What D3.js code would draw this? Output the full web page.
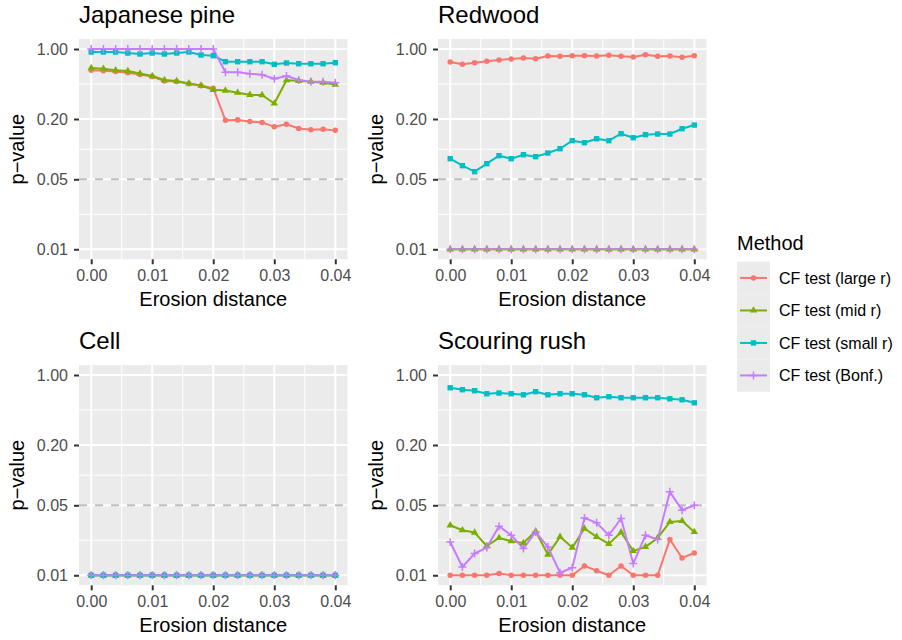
<!DOCTYPE html>
<html>
<head>
<meta charset="utf-8">
<script src="https://cdn.jsdelivr.net/npm/d3@7"></script>
<style>
body { margin: 0; background: #fff; }
svg text { font-family: "Liberation Sans", Arial, sans-serif; }
</style>
</head>
<body>
<div id="chart"></div>
<script>
/* Data */

var erosion = [0.000, 0.002, 0.004, 0.006, 0.008, 0.010, 0.012, 0.014, 0.016, 0.018, 0.020,
               0.022, 0.024, 0.026, 0.028, 0.030, 0.032, 0.034, 0.036, 0.038, 0.040];
var methods = ["CF test (large r)", "CF test (mid r)", "CF test (small r)", "CF test (Bonf.)"];
var colours = ["#F8766D", "#7CAE00", "#00BFC4", "#C77CFF"];
var shapes = ["circle", "triangle", "square", "plus"];
var titles = ["Japanese pine", "Redwood", "Cell", "Scouring rush"];
var yTicks = [0.01, 0.05, 0.20, 1.00];
var xTicks = [0.00, 0.01, 0.02, 0.03, 0.04];
var cutoff = 0.05;

var pineLarge = [0.614, 0.607, 0.596, 0.580, 0.556, 0.531, 0.479, 0.474, 0.450, 0.430, 0.406,
                 0.194, 0.196, 0.189, 0.185, 0.167, 0.177, 0.161, 0.156, 0.158, 0.154];
var pineMid   = [0.646, 0.636, 0.613, 0.603, 0.569, 0.537, 0.490, 0.479, 0.453, 0.432, 0.392,
                 0.385, 0.366, 0.349, 0.347, 0.286, 0.488, 0.481, 0.472, 0.461, 0.442];
var pineSmall = [0.933, 0.933, 0.933, 0.912, 0.891, 0.912, 0.891, 0.912, 0.933, 0.871, 0.857,
                 0.747, 0.747, 0.747, 0.747, 0.703, 0.725, 0.713, 0.713, 0.713, 0.730];
var pineBonf  = [1, 1, 1, 1, 1, 1, 1, 1, 1, 1, 1,
                 0.585, 0.585, 0.567, 0.554, 0.505, 0.537, 0.490, 0.472, 0.472, 0.461];

var redwoodLarge = [0.742, 0.703, 0.730, 0.754, 0.776, 0.795, 0.813, 0.800, 0.851, 0.846, 0.857,
                    0.857, 0.851, 0.865, 0.846, 0.832, 0.877, 0.846, 0.851, 0.826, 0.857];
var redwoodMid   = [0.01, 0.01, 0.01, 0.01, 0.01, 0.01, 0.01, 0.01, 0.01, 0.01, 0.01,
                    0.01, 0.01, 0.01, 0.01, 0.01, 0.01, 0.01, 0.01, 0.01, 0.01];
var redwoodSmall = [0.0803, 0.0684, 0.0596, 0.0716, 0.0860, 0.0803, 0.0880, 0.0841, 0.0915, 0.101, 0.1215,
                    0.116, 0.127, 0.1215, 0.1426, 0.130, 0.1394, 0.1416, 0.1416, 0.160, 0.174];
var redwoodBonf  = [0.01, 0.01, 0.01, 0.01, 0.01, 0.01, 0.01, 0.01, 0.01, 0.01, 0.01,
                    0.01, 0.01, 0.01, 0.01, 0.01, 0.01, 0.01, 0.01, 0.01, 0.01];

var cellLarge = [0.01, 0.01, 0.01, 0.01, 0.01, 0.01, 0.01, 0.01, 0.01, 0.01, 0.01,
                 0.01, 0.01, 0.01, 0.01, 0.01, 0.01, 0.01, 0.01, 0.01, 0.01];
var cellMid   = cellLarge.slice();
var cellSmall = cellLarge.slice();
var cellBonf  = cellLarge.slice();

var rushLarge = [0.01, 0.01, 0.01, 0.01, 0.0104, 0.01, 0.01, 0.01, 0.01, 0.01, 0.01,
                 0.0124, 0.0111, 0.01, 0.0124, 0.01, 0.01, 0.01, 0.0228, 0.0149, 0.0167];
var rushMid   = [0.0316, 0.0282, 0.0267, 0.0196, 0.0236, 0.0219, 0.0210, 0.0275, 0.0161, 0.0242, 0.0189,
                 0.0293, 0.0242, 0.0206, 0.0269, 0.0175, 0.0192, 0.0236, 0.0341, 0.0349, 0.0271];
var rushSmall = [0.746, 0.713, 0.697, 0.650, 0.661, 0.650, 0.635, 0.681, 0.635, 0.650, 0.650,
                 0.635, 0.593, 0.607, 0.593, 0.593, 0.593, 0.593, 0.579, 0.566, 0.528];
var rushBonf  = [0.0215, 0.0121, 0.0165, 0.0189, 0.0309, 0.0251, 0.0185, 0.0271, 0.0192, 0.0106, 0.0119,
                 0.0374, 0.0334, 0.0251, 0.0369, 0.0131, 0.0251, 0.0228, 0.0681, 0.0447, 0.0501];

var panelSeries = [
	[pineLarge, pineMid, pineSmall, pineBonf],
	[redwoodLarge, redwoodMid, redwoodSmall, redwoodBonf],
	[cellLarge, cellMid, cellSmall, cellBonf],
	[rushLarge, rushMid, rushSmall, rushBonf]
];

/* Layout */

var width = 902, height = 640;
var colX = [79, 438], rowY = [39, 365];
var pw = 268.5, ph = 220.3;

var svg = d3.select("#chart").append("svg")
	.attr("width", width).attr("height", height);

var x = d3.scaleLinear().domain([-0.002, 0.042]).range([0, pw]);
var y = d3.scaleLog().domain([Math.pow(10, -2.1), Math.pow(10, 0.1)]).range([ph, 0]);

var xMinor = [0.005, 0.015, 0.025, 0.035];
var yMinor = d3.pairs(yTicks).map(function(p) { return Math.sqrt(p[0] * p[1]); });

function symbolPath(shape) {
	if (shape == "circle") return d3.symbol(d3.symbolCircle, 24)();
	if (shape == "triangle") return d3.symbol(d3.symbolTriangle, 24)();
	if (shape == "square") return d3.symbol(d3.symbolSquare, 29)();
	return "M-4,0H4M0,-4V4"; // plus, stroked
}

function drawPoint(sel, shape, colour) {
	var p = sel.append("path").attr("d", symbolPath(shape));
	if (shape == "plus") {
		p.attr("fill", "none").attr("stroke", colour).attr("stroke-width", 1.5);
	} else {
		p.attr("fill", colour);
	}
}

var line = d3.line()
	.x(function(d, i) { return x(erosion[i]); })
	.y(function(d) { return y(d); });

panelSeries.forEach(function(series, k) {
	var px = colX[k % 2], py = rowY[Math.floor(k / 2)];
	var g = svg.append("g").attr("transform", "translate(" + px + "," + py + ")");

	// title
	g.append("text").attr("x", 0).attr("y", -16.3)
		.attr("font-size", 24).attr("fill", "#000").text(titles[k]);

	// panel background + grid
	g.append("rect").attr("width", pw).attr("height", ph).attr("fill", "#EBEBEB");
	g.selectAll(".minor-x").data(xMinor).enter().append("line")
		.attr("x1", x).attr("x2", x).attr("y1", 0).attr("y2", ph)
		.attr("stroke", "#fff").attr("stroke-width", 1);
	g.selectAll(".minor-y").data(yMinor).enter().append("line")
		.attr("y1", y).attr("y2", y).attr("x1", 0).attr("x2", pw)
		.attr("stroke", "#fff").attr("stroke-width", 1);
	g.selectAll(".major-x").data(xTicks).enter().append("line")
		.attr("x1", x).attr("x2", x).attr("y1", 0).attr("y2", ph)
		.attr("stroke", "#fff").attr("stroke-width", 2);
	g.selectAll(".major-y").data(yTicks).enter().append("line")
		.attr("y1", y).attr("y2", y).attr("x1", 0).attr("x2", pw)
		.attr("stroke", "#fff").attr("stroke-width", 2);

	// 0.05 reference line
	g.append("line")
		.attr("x1", 0).attr("x2", pw).attr("y1", y(cutoff)).attr("y2", y(cutoff))
		.attr("stroke", "#BEBEBE").attr("stroke-width", 2).attr("stroke-dasharray", "8,8");

	// lines first, then points (ggplot layer order)
	series.forEach(function(vals, m) {
		g.append("path").datum(vals).attr("d", line)
			.attr("fill", "none").attr("stroke", colours[m]).attr("stroke-width", 2)
			.attr("stroke-linejoin", "round");
	});
	series.forEach(function(vals, m) {
		vals.forEach(function(v, i) {
			var pt = g.append("g").attr("transform", "translate(" + x(erosion[i]) + "," + y(v) + ")");
			drawPoint(pt, shapes[m], colours[m]);
		});
	});

	// axes
	var ya = g.append("g").call(d3.axisLeft(y).tickValues(yTicks)
		.tickFormat(d3.format(".2f")).tickSize(5).tickPadding(6));
	var xa = g.append("g").attr("transform", "translate(0," + ph + ")")
		.call(d3.axisBottom(x).tickValues(xTicks)
		.tickFormat(d3.format(".2f")).tickSize(5).tickPadding(5.3));
	[ya, xa].forEach(function(a) {
		a.select(".domain").remove();
		a.selectAll(".tick line").attr("stroke", "#333333").attr("stroke-width", 2);
		a.selectAll(".tick text").attr("fill", "#4D4D4D").attr("font-size", 16)
			.attr("font-family", "Liberation Sans, Arial, sans-serif");
	});

	// axis titles
	g.append("text").attr("x", pw / 2).attr("y", ph + 46.7)
		.attr("text-anchor", "middle").attr("font-size", 20).text("Erosion distance");
	g.append("text")
		.attr("transform", "translate(-55," + (ph / 2) + ") rotate(-90)")
		.attr("text-anchor", "middle").attr("font-size", 20).text("p\u2212value");
});

/* Legend */

var legend = svg.append("g").attr("transform", "translate(737,0)");
legend.append("text").attr("x", 0).attr("y", 250).attr("font-size", 20).text("Method");
methods.forEach(function(name, m) {
	var top = 261.7 + m * 32.5, cy = top + 16.25;
	legend.append("rect").attr("x", 0).attr("y", top).attr("width", 33).attr("height", 32.5)
		.attr("fill", "#EBEBEB");
	legend.append("line").attr("x1", 3).attr("x2", 30).attr("y1", cy).attr("y2", cy)
		.attr("stroke", colours[m]).attr("stroke-width", 2);
	var pt = legend.append("g").attr("transform", "translate(16.5," + cy + ")");
	drawPoint(pt, shapes[m], colours[m]);
	legend.append("text").attr("x", 42).attr("y", cy).attr("dy", "0.35em")
		.attr("font-size", 16).text(name);
});
</script>
</body>
</html>
